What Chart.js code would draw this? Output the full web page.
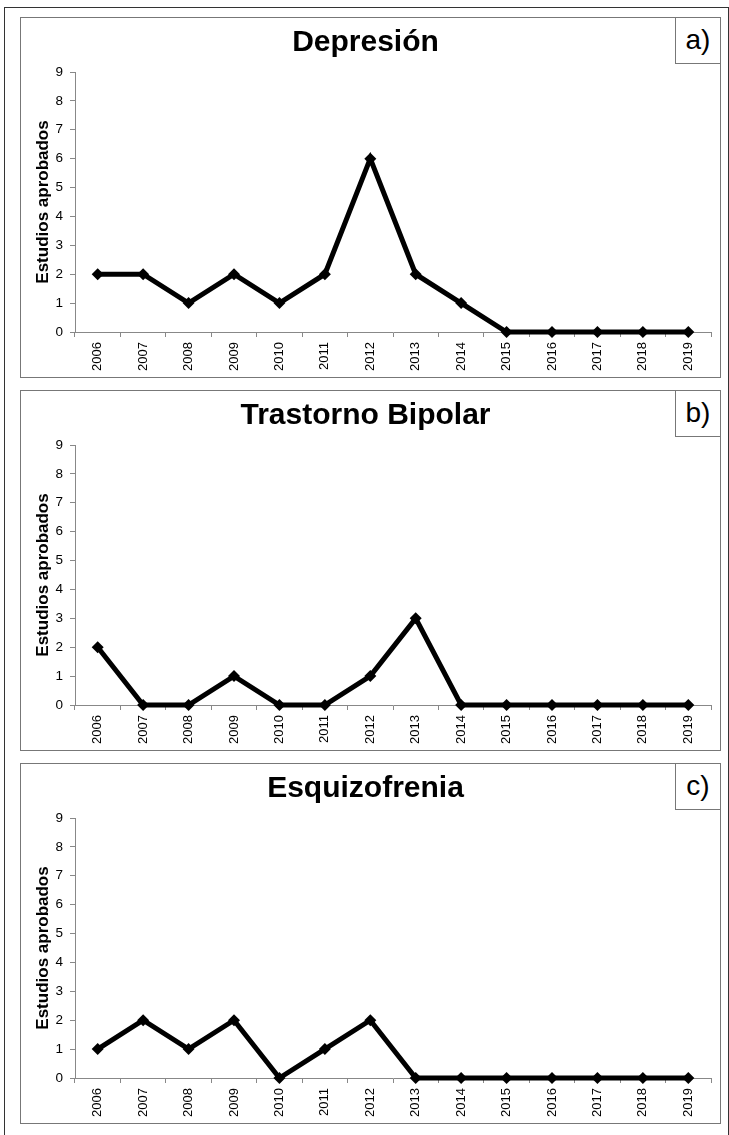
<!DOCTYPE html>
<html>
<head>
<meta charset="utf-8">
<script src="https://cdn.jsdelivr.net/npm/chart.js@4.4.1/dist/chart.umd.min.js"></script>
<style>
  body { margin: 0; background: #fff; width: 729px; height: 1135px; position: relative; overflow: hidden; font-family: "Liberation Sans", Arial, sans-serif; }
  #frame { position: absolute; left: 4px; top: 7px; width: 723px; height: 1140px; border: 1.5px solid #333; border-bottom: none; }
  .box { position: absolute; left: 20px; width: 701px; height: 361px; border: 1.3px solid #777; box-sizing: border-box; }
  .tag { position: absolute; left: 675px; width: 46px; height: 47px; border: 1.3px solid #777; box-sizing: border-box; font-size: 28px; text-align: center; line-height: 44px; }
  canvas { position: absolute; left: 20px; }
</style>
</head>
<body>
<div id="frame"></div>

<div class="box" style="top:17px"></div>
<div class="tag" style="top:17px">a)</div>
<canvas id="chartA" width="701" height="361" style="top:17px"></canvas>

<div class="box" style="top:390px"></div>
<div class="tag" style="top:390px">b)</div>
<canvas id="chartB" width="701" height="361" style="top:390px"></canvas>

<div class="box" style="top:763px"></div>
<div class="tag" style="top:763px">c)</div>
<canvas id="chartC" width="701" height="361" style="top:763px"></canvas>

<script>
// years on the x axis
const years = ['2006', '2007', '2008', '2009', '2010', '2011', '2012', '2013', '2014', '2015', '2016', '2017', '2018', '2019'];

// approved studies per year
const depresion = [2, 2, 1, 2, 1, 2, 6, 2, 1, 0, 0, 0, 0, 0];
const bipolar = [2, 0, 0, 1, 0, 0, 1, 3, 0, 0, 0, 0, 0, 0];
const esquizofrenia = [1, 2, 1, 2, 0, 1, 2, 0, 0, 0, 0, 0, 0, 0];

const yTicks = [0, 1, 2, 3, 4, 5, 6, 7, 8, 9];
const yLabel = 'Estudios aprobados';

const FONT = 'Liberation Sans';
const AXIS = '#888';

makeChart('chartA', 'Depresión', depresion);
makeChart('chartB', 'Trastorno Bipolar', bipolar);
makeChart('chartC', 'Esquizofrenia', esquizofrenia);

function makeChart(id, title, values) {
  var ctx = document.getElementById(id).getContext('2d');
  return new Chart(ctx, {
    type: 'line',
    data: {
      labels: years,
      datasets: [{
        data: values,
        borderColor: '#000',
        borderWidth: 5,
        tension: 0,
        pointStyle: 'rectRot',
        pointRadius: 6,
        pointBackgroundColor: '#000',
        pointBorderWidth: 0,
        clip: false
      }]
    },
    options: {
      responsive: false,
      animation: false,
      layout: { padding: { left: 0, right: 10, top: 0, bottom: 0 } },
      plugins: {
        legend: { display: false },
        tooltip: { enabled: false },
        title: {
          display: true,
          text: title,
          color: '#000',
          font: { family: FONT, size: 30, weight: 'bold', lineHeight: 1 },
          padding: { top: 11, bottom: 14 }
        }
      },
      scales: {
        x: {
          offset: true,
          grid: { offset: true, drawOnChartArea: false, color: AXIS, tickLength: 5 },
          border: { color: AXIS, width: 1 },
          ticks: {
            color: '#000', font: { family: FONT, size: 13 },
            minRotation: 90, maxRotation: 90, autoSkip: false, padding: 5
          },
          afterFit: function (scale) { scale.height = 46; }
        },
        y: {
          min: yTicks[0],
          max: yTicks[yTicks.length - 1],
          grid: { drawOnChartArea: false, color: AXIS, tickLength: 5 },
          border: { color: AXIS, width: 1 },
          ticks: { stepSize: 1, color: '#000', font: { family: FONT, size: 13.5 }, padding: 7 },
          title: {
            display: true,
            text: yLabel,
            color: '#000',
            font: { family: FONT, size: 17, weight: 'bold' },
            padding: { top: 13, bottom: 0 }
          },
          afterFit: function (scale) { scale.width = 55; }
        }
      }
    }
  });
}
</script>
</body>
</html>
